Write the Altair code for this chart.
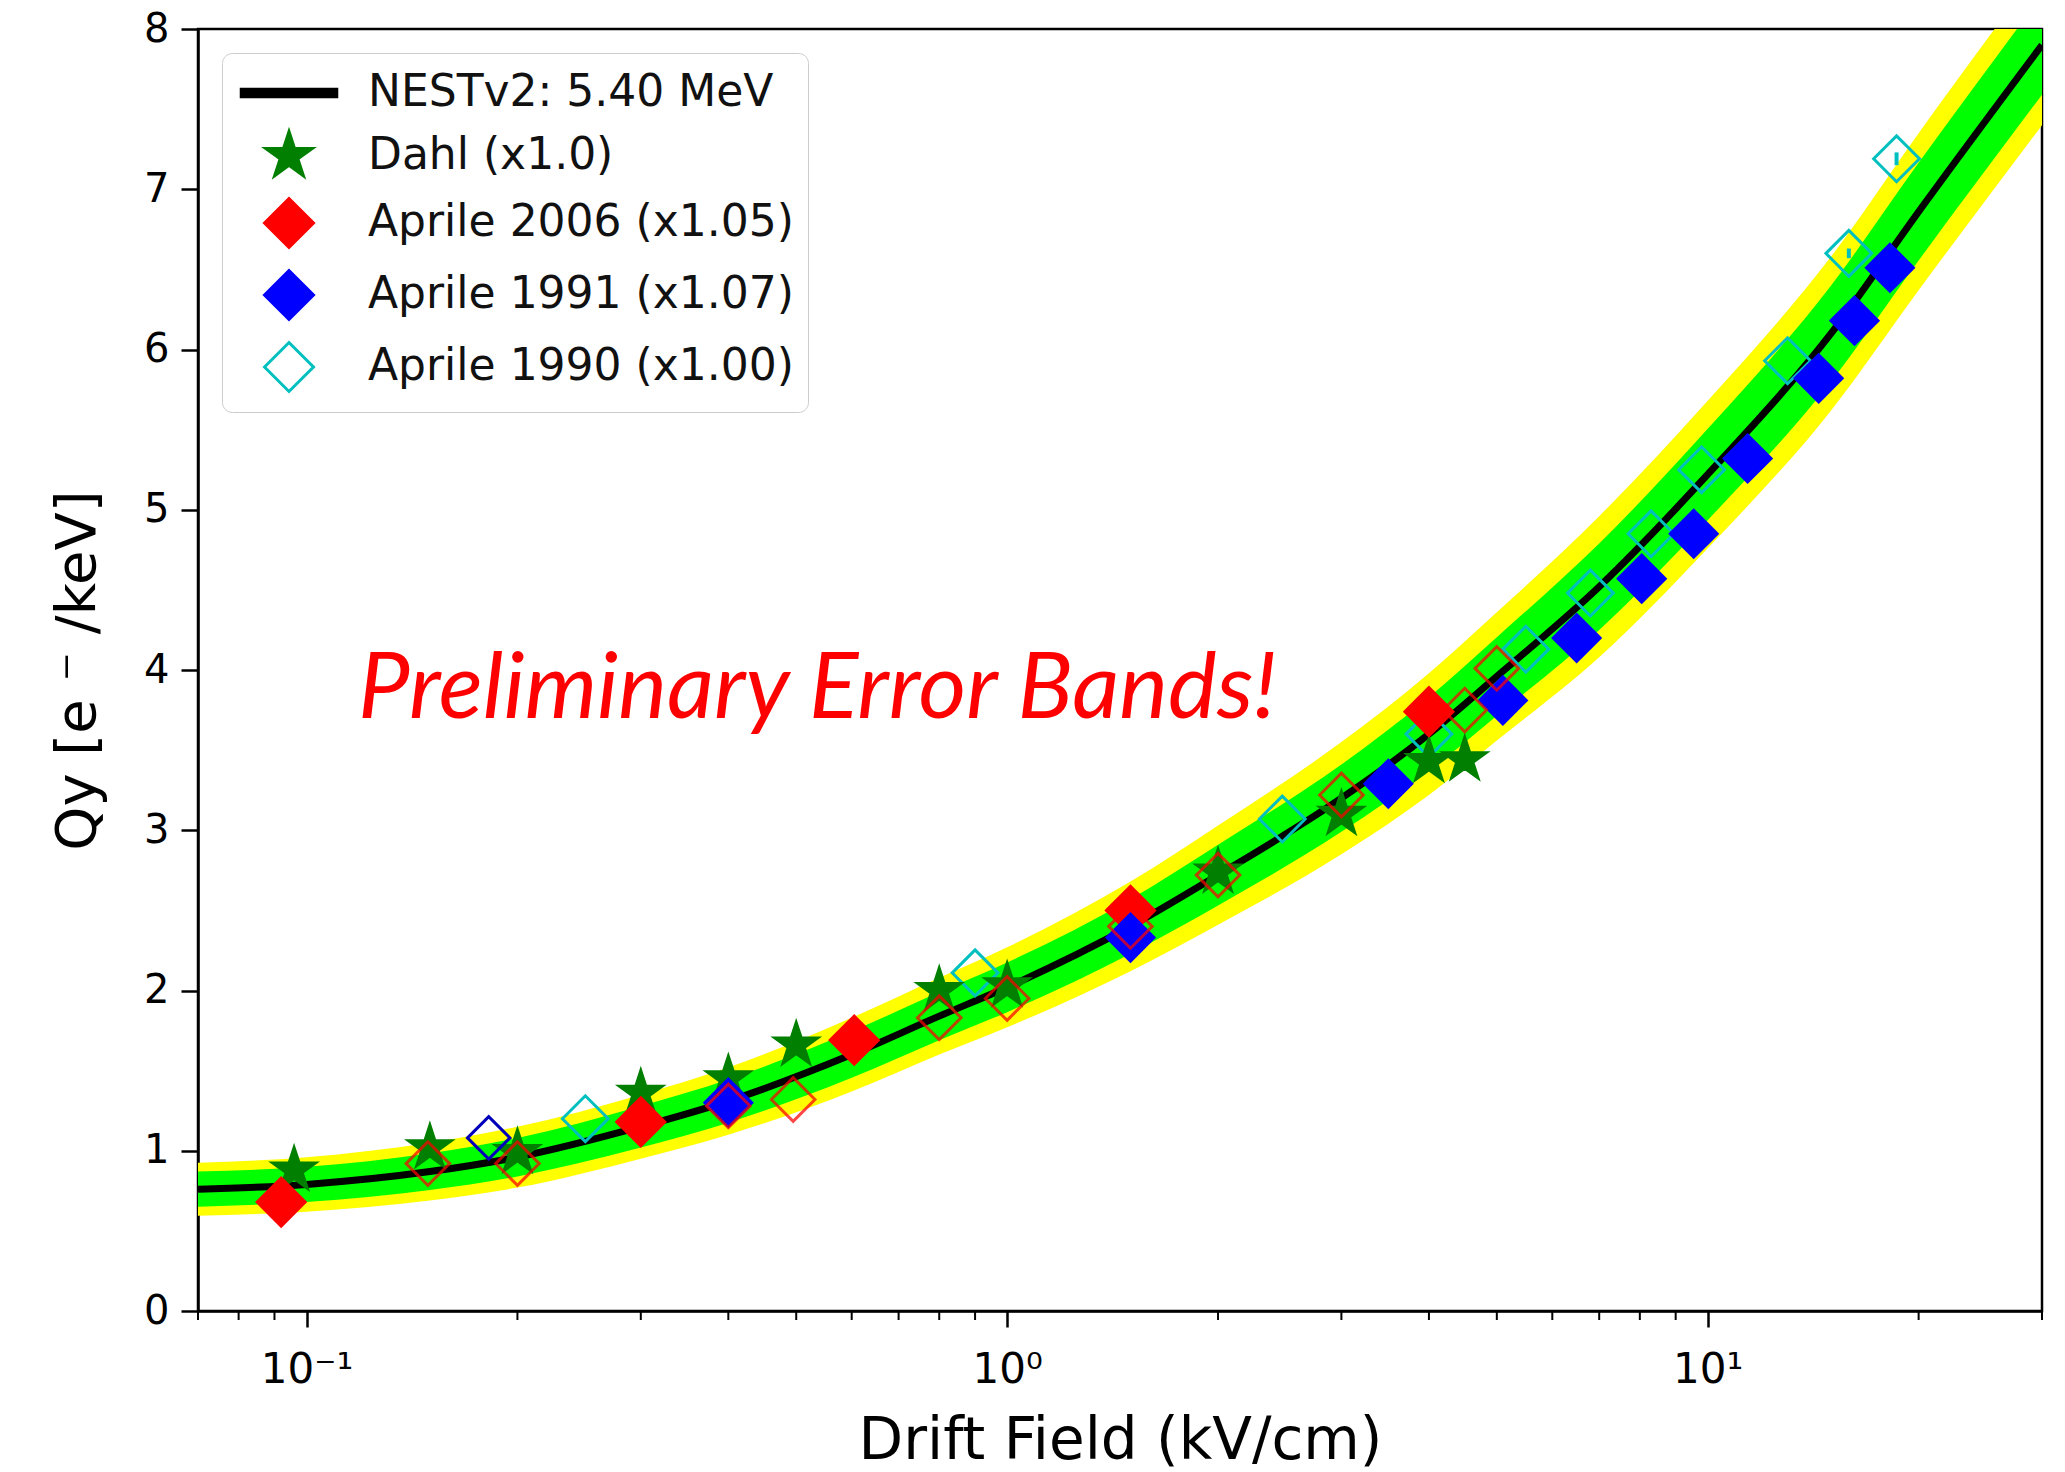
import altair as alt
import pandas as pd

# ---------------- data ----------------
curve_x = [0.07, 0.1, 0.15, 0.2, 0.3, 0.4, 0.6, 0.8, 1.0, 1.5, 2.0, 3.0, 4.0, 5.0, 7.0, 10.0, 15.0, 20.0, 30.0]
curve_q = [0.76, 0.79, 0.87, 0.96, 1.15, 1.31, 1.60, 1.84, 2.02, 2.40, 2.72, 3.20, 3.60, 3.96, 4.52, 5.22, 6.10, 6.86, 7.90]
yellow_half = [0.165, 0.17, 0.18, 0.19, 0.20, 0.21, 0.23, 0.24, 0.25, 0.28, 0.31, 0.35, 0.38, 0.40, 0.44, 0.46, 0.48, 0.49, 0.50]
green_half = [0.11, 0.11, 0.115, 0.12, 0.13, 0.135, 0.145, 0.15, 0.155, 0.17, 0.19, 0.21, 0.23, 0.245, 0.27, 0.285, 0.30, 0.305, 0.31]

dahl_x = [0.096, 0.15, 0.2, 0.30, 0.40, 0.50, 0.80, 1.0, 2.0, 3.0, 4.0, 4.5]
dahl_q = [0.88, 1.02, 0.99, 1.36, 1.45, 1.66, 2.00, 2.03, 2.74, 3.10, 3.43, 3.44]

a2006_x = [0.092, 0.30, 0.605, 1.5, 4.0]
a2006_q = [0.68, 1.18, 1.69, 2.50, 3.74]

a1991_x = [0.40, 1.5, 3.5, 5.1, 6.5, 8.05, 9.55, 11.4, 14.4, 16.2, 18.2]
a1991_q = [1.30, 2.33, 3.29, 3.81, 4.20, 4.57, 4.85, 5.32, 5.82, 6.18, 6.51]

a1990_x = [0.25, 0.90, 2.47, 4.0, 5.5, 6.8, 8.3, 9.8, 13.0, 15.9, 18.6]
a1990_q = [1.20, 2.11, 3.07, 3.60, 4.13, 4.48, 4.85, 5.25, 5.93, 6.60, 7.19]
a1990_err = [0, 0, 0, 0, 0, 0, 0, 0, 0, 0.03, 0.04]

open_red_x = [0.149, 0.2, 0.4, 0.495, 0.8, 1.0, 1.5, 2.0, 3.0, 4.5, 5.0]
open_red_q = [0.92, 0.92, 1.28, 1.32, 1.83, 1.95, 2.40, 2.72, 3.22, 3.75, 4.01]

open_blue_x = [0.182]
open_blue_q = [1.08]

minor_x = [0.07, 0.08, 0.09, 0.2, 0.3, 0.4, 0.5, 0.6, 0.7, 0.8, 0.9,
           2, 3, 4, 5, 6, 7, 8, 9, 20, 30]
major_x = [0.1, 1, 10]
y_ticks = [0, 1, 2, 3, 4, 5, 6, 7, 8]

labels = ["NESTv2: 5.40 MeV", "Dahl (x1.0)", "Aprile 2006 (x1.05)",
          "Aprile 1991 (x1.07)", "Aprile 1990 (x1.00)"]
note_text = "Preliminary Error Bands!"
note_x = [0.536]
note_q = [3.70]

# ---------------- frames ----------------
curve = pd.DataFrame({
    "x": curve_x,
    "q": curve_q,
    "yhi": [q + h for q, h in zip(curve_q, yellow_half)],
    "ylo": [q - h for q, h in zip(curve_q, yellow_half)],
    "ghi": [q + h for q, h in zip(curve_q, green_half)],
    "glo": [q - h for q, h in zip(curve_q, green_half)],
})

def series_frame(xs_, qs_, name):
    return pd.DataFrame({"x": xs_, "q": qs_, "series": name})

cyan_df = series_frame(a1990_x, a1990_q, labels[4])
dahl_df = series_frame(dahl_x, dahl_q, labels[1])
red_df = series_frame(a2006_x, a2006_q, labels[2])
blue_df = series_frame(a1991_x, a1991_q, labels[3])

err = pd.DataFrame({
    "x": a1990_x,
    "hi": [q + e for q, e in zip(a1990_q, a1990_err)],
    "lo": [q - e for q, e in zip(a1990_q, a1990_err)],
})
open_red = pd.DataFrame({"x": open_red_x, "q": open_red_q})
open_blue = pd.DataFrame({"x": open_blue_x, "q": open_blue_q})
minor = pd.DataFrame({"x": minor_x})
note = pd.DataFrame({"x": note_x, "q": note_q, "t": [note_text]})

# ---------------- scales / axes ----------------
W, H = 1844, 1282
xs = alt.Scale(type="log", domain=[0.07, 30], nice=False)
ys = alt.Scale(domain=[0, 8], nice=False)

x_axis = alt.Axis(
    values=major_x, tickSize=16, tickWidth=2.5, domainWidth=2.5,
    labelExpr="datum.value < 0.5 ? '10⁻¹' : (datum.value < 5 ? '10⁰' : '10¹')",
    labelFontSize=42, labelPadding=22, labelFlush=False,
    titleFontSize=58, titleFontWeight="normal",
    titleX=W / 2, titleY=130, titleBaseline="middle", titleAlign="center",
    grid=False,
)
y_axis = alt.Axis(
    values=y_ticks, format="d", tickSize=17, tickWidth=2.5, domainWidth=2.5,
    labelFontSize=40, labelPadding=12,
    titleFontSize=56, titleFontWeight="normal",
    titleX=-121, titleY=H / 2, titleAngle=270, titleBaseline="middle", titleAlign="center",
    grid=False,
)
X = alt.X("x:Q", scale=xs, axis=x_axis, title="Drift Field (kV/cm)")
Y_TITLE = "Qy [e ⁻ /keV]"

def Y(field):
    return alt.Y(field, type="quantitative", scale=ys, axis=y_axis, title=Y_TITLE)

line_path = "M-1.95,-0.15L1.95,-0.15L1.95,0.15L-1.95,0.15Z"
star_path = ("M0,-1L0.225,-0.309L0.951,-0.309L0.363,0.118L0.588,0.809L0,0.382"
             "L-0.588,0.809L-0.363,0.118L-0.951,-0.309L-0.225,-0.309Z")

stroke_range = ["#000000", "#007f00", "#ff0000", "#0000ff", "#00bfbf"]
fill_range = ["#000000", "#007f00", "#ff0000", "#0000ff", "transparent"]
shape_range = [line_path, star_path, "diamond", "diamond", "diamond"]

legend = alt.Legend(
    title=None, orient="top-left", offset=24,
    padding=14, symbolOffset=27, labelOffset=53, rowPadding=10,
    symbolSize=2400, symbolStrokeWidth=3,
    labelFontSize=44, labelFont="DejaVu Sans", labelColor="#111111", labelLimit=1000,
    fillColor="white", strokeColor="#cccccc", cornerRadius=10,
)

enc_stroke = alt.Stroke("series:N", scale=alt.Scale(domain=labels, range=stroke_range), legend=legend)
enc_fill = alt.Fill("series:N", scale=alt.Scale(domain=labels, range=fill_range), legend=legend)
enc_shape = alt.Shape("series:N", scale=alt.Scale(domain=labels, range=shape_range), legend=legend)

def series_layer(df, size):
    return alt.Chart(df).mark_point(opacity=1, strokeWidth=3, size=size).encode(
        x=X, y=Y("q"), stroke=enc_stroke, fill=enc_fill, shape=enc_shape)

# ---------------- layers ----------------
yellow = alt.Chart(curve).mark_area(color="#ffff00", clip=True, interpolate="monotone").encode(
    x=X, y=Y("yhi"), y2="ylo")
green = alt.Chart(curve).mark_area(color="#00ff00", clip=True, interpolate="monotone").encode(
    x=X, y=Y("ghi"), y2="glo")
nest = alt.Chart(curve).mark_line(color="black", strokeWidth=7, clip=True, interpolate="monotone").encode(
    x=X, y=Y("q"))

minor_ticks = alt.Chart(minor).mark_rule(color="black", strokeWidth=2).encode(
    x=X, y=alt.value(H), y2=alt.value(H + 9))

cyan_pts = series_layer(cyan_df, 2100)
dahl_pts = series_layer(dahl_df, 2000)
red_pts = series_layer(red_df, 2300)
blue_pts = series_layer(blue_df, 2200)

errbars = alt.Chart(err).mark_rule(color="#00bfbf", strokeWidth=4).encode(
    x=X, y=Y("hi"), y2="lo")

blue_open = alt.Chart(open_blue).mark_point(shape="diamond", filled=False, color="#0000bb",
                                            strokeWidth=3, size=1800, opacity=1).encode(x=X, y=Y("q"))
red_open = alt.Chart(open_red).mark_point(shape="diamond", filled=False, color="#ff0000",
                                          strokeWidth=3, size=1900, opacity=0.72).encode(x=X, y=Y("q"))

text = alt.Chart(note).mark_text(color="#ff0000", font="Lato", fontStyle="italic", fontSize=92,
                                 align="center", baseline="alphabetic").encode(
    x=X, y=Y("q"), text="t:N")

chart = alt.layer(
    yellow, green, nest, minor_ticks, cyan_pts, dahl_pts, red_pts, blue_pts,
    errbars, blue_open, red_open, text
).properties(
    width=W, height=H,
    autosize=alt.AutoSizeParams(type="none"),
    padding={"left": 198, "top": 29, "right": 23, "bottom": 161},
    background="white",
).configure_view(
    stroke="black", strokeWidth=2.5
).configure_axis(
    labelFont="DejaVu Sans", titleFont="DejaVu Sans",
    labelColor="black", titleColor="black", tickColor="black", domainColor="black",
)

chart.save("out.html", embed_options={"renderer": "svg", "actions": False})
